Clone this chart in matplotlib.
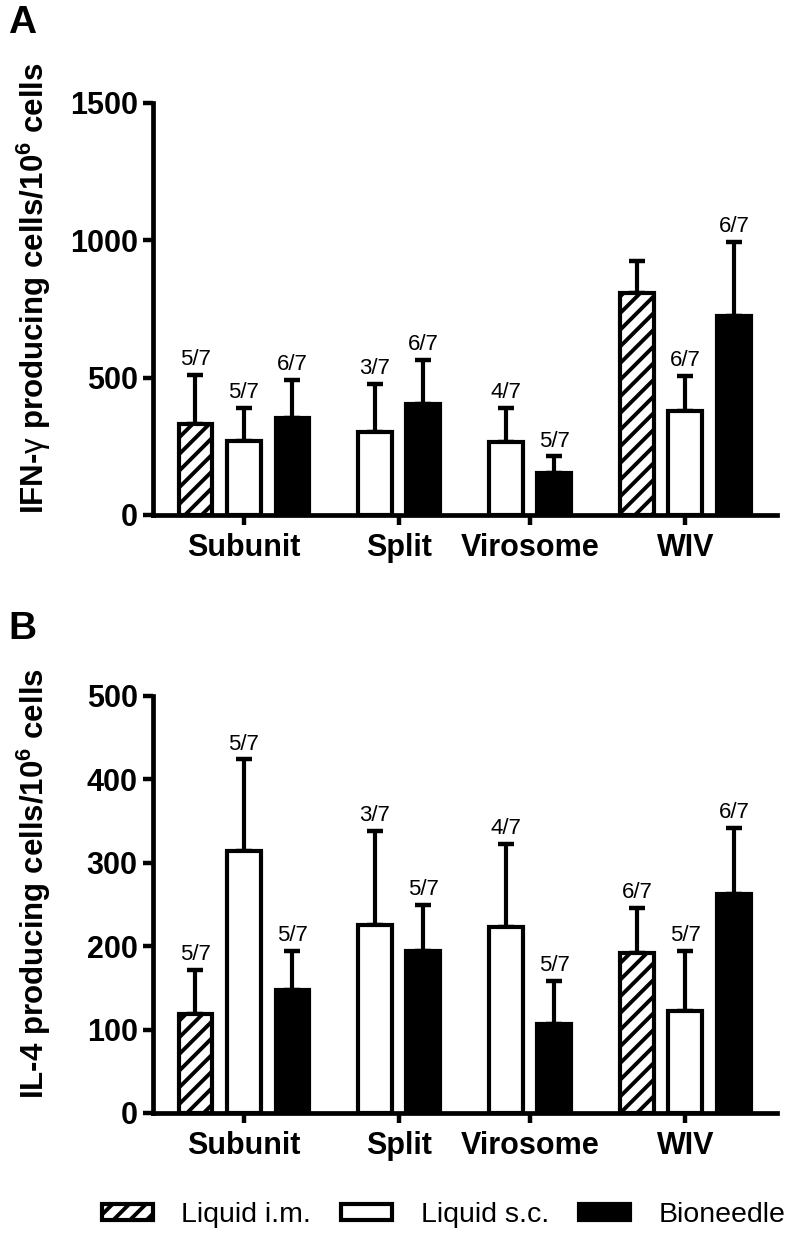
import numpy as np
import matplotlib
matplotlib.use("Agg")
import matplotlib.pyplot as plt
from matplotlib.patches import Patch

plt.rcParams['font.family'] = ['Liberation Sans', 'DejaVu Sans']
plt.rcParams['hatch.linewidth'] = 2.8
plt.rcParams['mathtext.fontset'] = 'custom'
plt.rcParams['mathtext.rm'] = 'Liberation Sans'
plt.rcParams['mathtext.bf'] = 'Liberation Sans:bold'
plt.rcParams['mathtext.it'] = 'Liberation Sans:italic'

groups = ["Subunit", "Split", "Virosome", "WIV"]
series = ["Liquid i.m.", "Liquid s.c.", "Bioneedle"]
nan = np.nan

# Panel A: IFN-gamma
a_im = [330, nan, nan, 807]
a_im_err = [180, nan, nan, 118]
a_sc = [271, 301, 264, 380]
a_sc_err = [120, 176, 127, 126]
a_bio = [354, 403, 152, 723]
a_bio_err = [137, 161, 61, 272]
a_im_lab = ["5/7", "", "", ""]
a_sc_lab = ["5/7", "3/7", "4/7", "6/7"]
a_bio_lab = ["6/7", "6/7", "5/7", "6/7"]

# Panel B: IL-4
b_im = [119, nan, nan, 192]
b_im_err = [53, nan, nan, 54]
b_sc = [314, 225, 223, 122]
b_sc_err = [110, 113, 100, 72]
b_bio = [147, 194, 107, 263]
b_bio_err = [47, 56, 51, 79]
b_im_lab = ["5/7", "", "", "6/7"]
b_sc_lab = ["5/7", "3/7", "4/7", "5/7"]
b_bio_lab = ["5/7", "5/7", "5/7", "6/7"]

styles = [dict(facecolor="white", hatch="//"),
          dict(facecolor="white", hatch=None),
          dict(facecolor="black", hatch=None)]

LW = 3.0
fig = plt.figure(figsize=(7.92, 12.43), dpi=100)
axA = fig.add_axes([153/792, 1-515/1243, (777-153)/792, (515-103)/1243])
axB = fig.add_axes([153/792, 1-1113/1243, (777-153)/792, (1113-696)/1243])


def draw(ax, vals, errs, labs, ymax, yticks, ylabel):
    pos = 0.0
    centers = []
    for gi in range(len(groups)):
        xs = []
        for si in range(3):
            v = vals[si][gi]
            if np.isnan(v):
                continue
            st = styles[si]
            ax.bar(pos, v, width=0.70, facecolor=st["facecolor"], hatch=st["hatch"],
                   edgecolor="black", linewidth=LW, zorder=2)
            ax.errorbar(pos, v, yerr=[[0], [errs[si][gi]]], fmt="none", ecolor="black",
                        elinewidth=LW, capsize=5.5, capthick=3.2, zorder=1)
            if labs[si][gi]:
                ax.annotate(labs[si][gi], (pos, v + errs[si][gi]), xytext=(0, 3.5),
                            textcoords="offset points", ha="center", va="bottom",
                            fontsize=16)
            xs.append(pos)
            pos += 1.0
        centers.append(np.mean(xs))
        pos += 0.7
    ax.set_xlim(-0.876, 11.99)
    ax.set_ylim(0, ymax)
    ax.set_yticks(yticks)
    ax.set_xticks(centers)
    ax.set_xticklabels(groups, fontsize=22, fontweight="bold")
    for t in ax.get_yticklabels():
        t.set_fontsize(22)
        t.set_fontweight("bold")
    ax.spines["top"].set_visible(False)
    ax.spines["right"].set_visible(False)
    ax.spines["left"].set_linewidth(3.4)
    ax.spines["bottom"].set_linewidth(3.4)
    ax.tick_params(axis="y", width=3.2, length=7.5, pad=3.5)
    ax.tick_params(axis="x", width=3.2, length=7.5, pad=5.5)
    ax.set_ylabel(ylabel, fontsize=22.5, fontweight="bold")
    ax.yaxis.set_label_coords(-0.160, 0.55)


draw(axA, [a_im, a_sc, a_bio], [a_im_err, a_sc_err, a_bio_err],
     [a_im_lab, a_sc_lab, a_bio_lab], 1500, [0, 500, 1000, 1500],
     r"IFN-$\mathrm{\gamma}$ producing cells/10$^{\mathbf{6}}$ cells")
draw(axB, [b_im, b_sc, b_bio], [b_im_err, b_sc_err, b_bio_err],
     [b_im_lab, b_sc_lab, b_bio_lab], 500, [0, 100, 200, 300, 400, 500],
     r"IL-4 producing cells/10$^{\mathbf{6}}$ cells")

fig.text(8/792, 1-23/1243, "A", fontsize=28, fontweight="bold", va="center", ha="left")
fig.text(8/792, 1-629/1243, "B", fontsize=28, fontweight="bold", va="center", ha="left")

handles = [Patch(facecolor=st["facecolor"], hatch=st["hatch"], edgecolor="black", linewidth=LW)
           for st in styles]
fig.legend(handles, series, loc="center", bbox_to_anchor=(0.560, 1-1215/1243), ncol=3,
           frameon=False, fontsize=20.5, handlelength=1.8, handleheight=0.5,
           handletextpad=1.0, columnspacing=1.05)

fig.savefig("out.png", dpi=100)
